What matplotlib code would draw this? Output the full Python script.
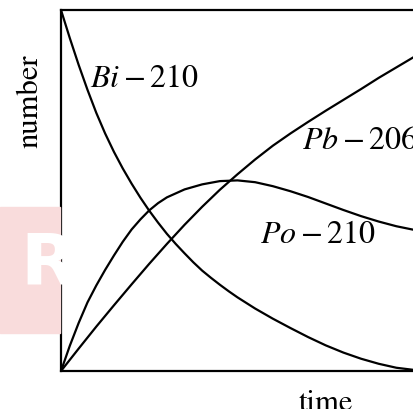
import matplotlib
matplotlib.use("Agg")
import matplotlib.pyplot as plt
from matplotlib.patches import Rectangle

plt.rcParams["mathtext.fontset"] = "stix"

# Decay chain Bi-210 -> Po-210 -> Pb-206 (relative amounts vs time)
t_bi = [0, 2.5, 5, 7.5, 10, 12.5, 15, 17.5, 20, 22.5, 25, 27.5, 30, 32.5, 35,
        37.5, 40, 42.5, 45, 47.5, 50, 55, 60, 65, 70, 75, 80, 85, 90, 95, 100]
n_bi = [100, 92.2, 84.8, 77.9, 71.5, 65.8, 60.7, 56.1, 51.9, 48.0, 44.4, 41.1,
        38.0, 35.2, 32.6, 30.1, 27.8, 25.8, 23.9, 22.1, 20.4, 17.3, 14.5, 11.9,
        9.4, 7.1, 5.1, 3.4, 2.0, 0.9, 0.3]

t_po = [0, 2.5, 5, 7.5, 10, 12.5, 15, 17.5, 20, 22.5, 25, 27.5, 30, 35, 40, 45,
        50, 55, 60, 65, 70, 75, 80, 85, 90, 95, 100]
n_po = [0, 7, 13.3, 19, 23.7, 28, 32, 35.8, 39.2, 42, 44.5, 46.5, 48.1, 50.3,
        51.7, 52.6, 52.8, 52.3, 51.2, 49.8, 48.2, 46.4, 44.6, 42.9, 41.4, 40.1, 39.1]

t_pb = [0, 5, 10, 15, 20, 25, 30, 35, 40, 45, 50, 55, 60, 65, 70, 75, 80, 85,
        90, 95, 100]
n_pb = [0, 6.2, 12.3, 18.2, 24, 29.7, 35.2, 40.5, 45.5, 50.2, 54.5, 58.6, 62.4,
        65.8, 69, 72.1, 75.1, 78.1, 81.2, 84.1, 87]

labels = ["$Bi - 210$", "$Pb - 206$", "$Po - 210$"]
label_pos = [(8.2, 78.7), (68.3, 61.5), (56.4, 35.5)]

W, H = 414, 409
fig = plt.figure(figsize=(W / 100, H / 100), dpi=100)

# faint background watermark
fig.patches.append(Rectangle((0, 1 - 333 / H), 60 / W, (333 - 207) / H,
                             transform=fig.transFigure, color="#f9dcdc",
                             zorder=0))
fig.text(20 / W, 1 - 265 / H, "R", color="white", fontsize=52,
         fontweight="bold", family="DejaVu Sans", ha="left", va="center",
         zorder=1)

ax = fig.add_axes([61 / W, 1 - 371 / H, (420 - 61) / W, (371 - 10) / H])
ax.set_xlim(0, 100 * (420 - 61) / 353)
ax.set_ylim(0, 100)

lw = 1.6
ax.plot(t_bi, n_bi, color="black", lw=lw)
ax.plot(t_po, n_po, color="black", lw=lw)
ax.plot(t_pb, n_pb, color="black", lw=lw)

for txt, (x, y) in zip(labels, label_pos):
    ax.text(x, y, txt, fontsize=23, ha="left", va="baseline", color="black")

ax.set_xticks([])
ax.set_yticks([])
for s in ax.spines.values():
    s.set_linewidth(1.6)
    s.set_color("black")

ax.text((326 - 61) / 359, -0.052, "time", transform=ax.transAxes,
        family="STIXGeneral", fontsize=22, ha="center", va="top")
ax.text(-0.086, (371 - 101) / 361, "number", transform=ax.transAxes,
        family="STIXGeneral", fontsize=22, ha="center", va="center",
        rotation=90)

fig.savefig("out.png", dpi=100)
